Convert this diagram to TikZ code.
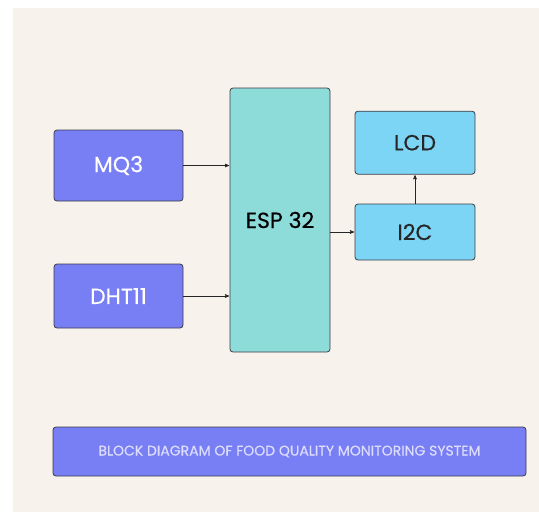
\documentclass[tikz,border=0pt]{standalone}
\usepackage{fontspec}
\setmainfont{Poppins}[FakeBold=0.4]
\usetikzlibrary{positioning,arrows}
\definecolor{bgcream}{HTML}{F7F2EC}
\definecolor{sensorblue}{HTML}{787EF4}
\definecolor{espteal}{HTML}{8DDCDA}
\definecolor{outblue}{HTML}{7DD5F6}
\definecolor{edgegray}{HTML}{3C3C46}
\definecolor{titletext}{HTML}{DCDDFF}
\tikzset{
>=stealth',
  block/.style={
    rectangle,
    rounded corners=3pt,
    draw=edgegray, thick,
    inner sep=0pt,
    text centered},
  sensor/.style={block, fill=sensorblue, text=white,
    minimum width=129pt, font=\fontsize{22}{26}\selectfont},
  display/.style={block, fill=outblue, text=black!85,
    minimum width=120pt, font=\fontsize{22}{26}\selectfont},
  link/.style={draw=black!85, semithick, ->, shorten >=0.5pt},
}
\begin{document}
\begin{tikzpicture}[x=1pt,y=-1pt]
  \useasboundingbox (0,0) rectangle (539,512);
  \fill[white] (0,0) rectangle (539,512);
  \fill[bgcream] (13,8) rectangle (539,512);
  % sensors
  \node[sensor, minimum height=71pt] (mq3) at (118.5,165.5) {MQ3};
  \node[sensor, minimum height=64pt] (dht) at (118.5,296) {DHT11};
  % controller
  \node[block, fill=espteal, minimum width=100pt, minimum height=264pt,
    font=\fontsize{22}{26}\selectfont] (esp) at (280,220) {ESP 32};
  % display side
  \node[display, minimum height=56pt] (i2c) at (415,232) {I2C};
  \node[display, minimum height=63pt, above=29pt of i2c] (lcd) {LCD};
  % title
  \node[block, fill=sensorblue, text=titletext,
    minimum width=473pt, minimum height=49pt,
    font=\fontsize{14}{17}\selectfont] (title) at (289.5,451.5)
    {BLOCK DIAGRAM OF FOOD QUALITY MONITORING SYSTEM};
  % connections
  \draw[link] (mq3.east) -- (mq3.east -| esp.west);
  \draw[link] (dht.east) -- (dht.east -| esp.west);
  \draw[link] (esp.east |- i2c.west) -- (i2c.west);
  \draw[link] (i2c.north) -- (lcd.south);
\end{tikzpicture}
\end{document}
